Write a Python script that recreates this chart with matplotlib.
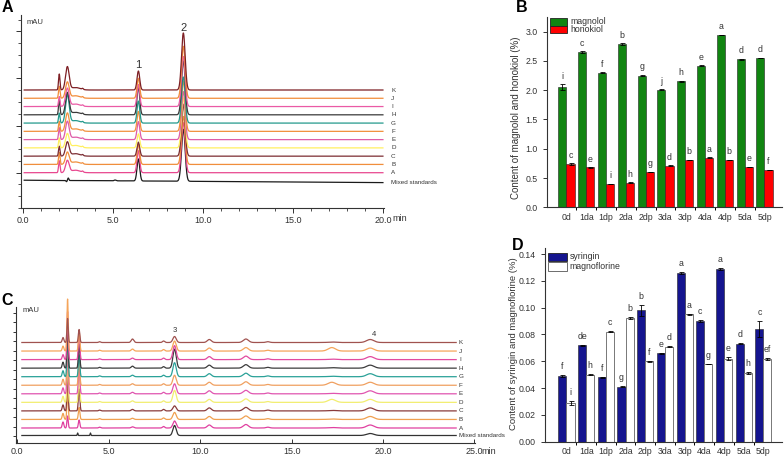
import numpy as np
import matplotlib.pyplot as plt
from matplotlib.patches import Rectangle
from matplotlib.ticker import FixedLocator, MultipleLocator

plt.rcParams['font.family'] = ['Liberation Sans', 'DejaVu Sans']

W, H = 784, 459

# ---- data ----
samples = ['A', 'B', 'C', 'D', 'E', 'F', 'G', 'H', 'I', 'J', 'K']
colors_a = ['#e8488f', '#f08e3c', '#7c2d33', '#fff060', '#de5ca8', '#f1903c',
            '#23998c', '#3a3a3a', '#ea5aa5', '#f28c3a', '#7d1f24']
colors_c = ['#e040a0', '#f0a050', '#8a3b3b', '#f2ee70', '#e055b0', '#f0a060',
            '#2aa198', '#3c3c3c', '#e24aa0', '#f5a55a', '#a0524f']

# panel A peak table (retention time, sigma) and heights for samples A..K
a_times = [2.0, 2.45, 2.9, 3.3, 6.4, 8.9]
a_sigmas = [0.04, 0.1, 0.25, 0.04, 0.075, 0.1]
a_h_200 = [12, 12, 10, 10, 12, 10, 10, 15, 10, 12, 16]
a_h_245 = [12, 12, 14, 14, 18, 18, 28, 22, 18, 16, 23]
a_h_290 = [2.5, 2.5, 2.5, 2.5, 2.5, 2.5, 2.5, 2.5, 2.5, 2.5, 2.5]
a_h_330 = [1, 1, 1, 1, 1, 1, 1, 1, 1, 1, 1]
a_h_peak1 = [22, 20, 14, 14, 18, 20, 22, 28, 22, 20, 19]
a_h_peak2 = [50, 48, 52, 50, 48, 50, 46, 54, 50, 52, 57]
a_mix_times = [2.4, 2.5, 5.1, 6.4, 8.9]
a_mix_sigmas = [0.03, 0.03, 0.05, 0.075, 0.1]
a_mix_heights = [-1.2, 2.5, 0.8, 22, 52]

# panel C peak table
c_times = [2.5, 2.75, 3.38, 4.5, 6.3, 8.0, 8.6, 10.5, 12.5, 13.7, 17.2, 19.3]
c_sigmas = [0.045, 0.035, 0.04, 0.05, 0.07, 0.06, 0.09, 0.11, 0.14, 0.1, 0.2, 0.2]
c_h_250 = [6, 6, 6, 6, 6, 6, 6, 6, 5, 5, 5]
c_h_275 = [12, 30, 38, 45, 50, 55, 45, 42, 48, 52, 24]
c_h_338 = [8, 12, 22, 26, 30, 26, 22, 24, 26, 20, 13]
c_h_450 = [0.8, 0.8, 0.8, 0.8, 0.8, 0.8, 0.8, 0.8, 0.8, 0.8, 0.8]
c_h_630 = [1.2, 1.2, 1.5, 1.5, 1.5, 1.5, 1.5, 2, 1.5, 2, 3.5]
c_h_800 = [1.5, 1.5, 1.5, 1.5, 1.5, 1.5, 1.5, 1.5, 1.5, 1.5, 1.5]
c_h_peak3 = [7, 7, 5, 12, 10, 10, 14, 19, 14, 10, 6]
c_h_1050 = [3, 3, 3, 3, 3, 3, 3, 3, 3, 3, 3]
c_h_1250 = [3.5, 3.5, 3.5, 3.5, 3.5, 3.5, 3.5, 3.5, 3.5, 3.5, 3.5]
c_h_1370 = [0.8, 0.8, 0.8, 0.8, 0.8, 0.8, 0.8, 0.8, 0.8, 0.8, 0.8]
c_h_1720 = [0.5, 0.5, 0.5, 3, 0.5, 3, 0.5, 0.5, 0.5, 3.5, 0.5]
c_h_peak4 = [3, 3, 3, 3, 3, 3, 3, 3, 3, 3, 3]
c_mix_times = [3.3, 4.0, 8.6, 19.3]
c_mix_sigmas = [0.02, 0.02, 0.09, 0.2]
c_mix_heights = [2.5, 2.5, 10, 2]

groups = ['0d', '1da', '1dp', '2da', '2dp', '3da', '3dp', '4da', '4dp', '5da', '5dp']
magnolol = [2.05, 2.65, 2.30, 2.79, 2.25, 2.01, 2.15, 2.42, 2.94, 2.53, 2.55]
magnolol_err = [0.05, 0.015, 0.01, 0.015, 0.01, 0.005, 0.015, 0.01, 0.005, 0.01, 0.005]
magnolol_sig = ['i', 'c', 'f', 'b', 'g', 'j', 'h', 'e', 'a', 'd', 'd']
honokiol = [0.74, 0.68, 0.40, 0.42, 0.60, 0.71, 0.81, 0.85, 0.81, 0.69, 0.64]
honokiol_err = [0.015, 0.005, 0.005, 0.005, 0.005, 0.005, 0.005, 0.005, 0.005, 0.005, 0.005]
honokiol_sig = ['c', 'e', 'i', 'h', 'g', 'd', 'b', 'a', 'b', 'e', 'f']

syringin = [0.049, 0.072, 0.048, 0.041, 0.098, 0.066, 0.126, 0.090, 0.129, 0.073, 0.084]
syringin_err = [0.0005, 0.0003, 0.0003, 0.0005, 0.004, 0.0003, 0.0008, 0.0005, 0.0008, 0.0003, 0.006]
syringin_sig = ['f', 'de', 'f', 'g', 'b', 'e', 'a', 'c', 'a', 'd', 'c']
magnoflorine = [0.029, 0.050, 0.082, 0.092, 0.060, 0.071, 0.095, 0.058, 0.062, 0.051, 0.062]
magnoflorine_err = [0.0015, 0.0003, 0.0003, 0.0008, 0.0003, 0.0003, 0.0003, 0.0003, 0.001, 0.0008, 0.0008]
magnoflorine_sig = ['i', 'h', 'c', 'b', 'f', 'd', 'a', 'g', 'e', 'h', 'ef']


def box(l, t, r, b):
    return [l / W, 1 - b / H, (r - l) / W, (b - t) / H]


def fpx(x, y):
    return x / W, 1 - y / H


def trace(t, times, sigmas, heights):
    y = np.zeros_like(t)
    for t0, s, h in zip(times, sigmas, heights):
        y += h * np.exp(-0.5 * ((t - t0) / s) ** 2)
    return y


def chrom_axes(ax):
    for s in ['top', 'right']:
        ax.spines[s].set_visible(False)
    for s in ['left', 'bottom']:
        ax.spines[s].set_linewidth(0.8)
        ax.spines[s].set_color('#333333')
    ax.tick_params(axis='both', labelsize=6.5, colors='#333333', width=0.7)


fig = plt.figure(figsize=(W / 100, H / 100), dpi=100)

# ---- panel A ----
ax_a = fig.add_axes(box(20.7, 15, 384, 208))
chrom_axes(ax_a)
t = np.linspace(0.05, 20.0, 6000)
mix = -7.5 - 2.4 * t / 20.0 + trace(t, a_mix_times, a_mix_sigmas, a_mix_heights)
ax_a.plot(t, mix, color='#1a1a1a', lw=0.9)
for i, s in enumerate(samples):
    hs = [a_h_200[i], a_h_245[i], a_h_290[i], a_h_330[i], a_h_peak1[i], a_h_peak2[i]]
    base = 8.27 * i
    ax_a.plot(t, base + trace(t, a_times, a_sigmas, hs), color=colors_a[i], lw=0.9)
    ax_a.text(20.45, base, s, fontsize=4.5, va='center', color='#333333', clip_on=False)
ax_a.text(20.45, -9.9, 'Mixed standards', fontsize=4.5, va='center', color='#333333', clip_on=False)
ax_a.set_xlim(-0.145, 20.06)
ax_a.set_ylim(-35.3, 157.7)
ax_a.set_xticks([0, 5, 10, 15, 20])
ax_a.set_xticklabels(['0.0', '5.0', '10.0', '15.0', '20.0'])
ax_a.xaxis.set_minor_locator(MultipleLocator(1))
ax_a.yaxis.set_major_locator(FixedLocator([0, 47.1, 94.2, 141.3]))
ax_a.yaxis.set_minor_locator(FixedLocator(np.arange(-35.3, 158, 11.775)))
ax_a.set_yticklabels([])
ax_a.tick_params(axis='both', which='major', length=3.5, pad=2)
ax_a.tick_params(axis='both', which='minor', length=2, width=0.6, colors='#333333')
ax_a.text(20.5, -0.052, 'min', transform=ax_a.get_xaxis_transform(), fontsize=6.5,
          va='center', ha='left', color='#333333')
ax_a.text(0.2, 149.7, 'mAU', fontsize=5.5, va='center', color='#333333')
ax_a.text(6.4, 107.7, '1', fontsize=8, ha='center', va='center', color='#333333')
ax_a.text(8.9, 144.7, '2', fontsize=8, ha='center', va='center', color='#333333')

# ---- panel C ----
ax_c = fig.add_axes(box(15.5, 307, 475, 443))
chrom_axes(ax_c)
t = np.linspace(0.25, 24.0, 8000)
mix = 7.5 + trace(t, c_mix_times, c_mix_sigmas, c_mix_heights)
ax_c.plot(t, mix, color='#333333', lw=0.9)
for i, s in enumerate(samples):
    hs = [c_h_250[i], c_h_275[i], c_h_338[i], c_h_450[i], c_h_630[i], c_h_800[i],
          c_h_peak3[i], c_h_1050[i], c_h_1250[i], c_h_1370[i], c_h_1720[i], c_h_peak4[i]]
    base = 15 + 8.55 * i
    ax_c.plot(t, base + trace(t, c_times, c_sigmas, hs), color=colors_c[i], lw=0.9, clip_on=False)
    ax_c.text(24.15, base, s, fontsize=4.5, va='center', color='#333333', clip_on=False)
ax_c.text(24.15, 7.5, 'Mixed standards', fontsize=4.5, va='center', color='#333333', clip_on=False)
ax_c.set_xlim(-0.098, 25.03)
ax_c.set_ylim(0, 136)
ax_c.set_xticks([0, 5, 10, 15, 20, 25])
ax_c.set_xticklabels(['0.0', '5.0', '10.0', '15.0', '20.0', '25.0'])
ax_c.yaxis.set_major_locator(FixedLocator(np.arange(7, 136, 9.5)))
ax_c.set_yticklabels([])
ax_c.tick_params(axis='x', direction='in', length=3, pad=3)
ax_c.tick_params(axis='y', length=2.5)
ax_c.text(25.4, -0.06, 'min', transform=ax_c.get_xaxis_transform(), fontsize=6.5,
          va='center', ha='left', color='#333333')
ax_c.text(0.3, 133, 'mAU', fontsize=5.5, va='center', color='#333333')
ax_c.text(8.6, 113, '3', fontsize=5.5, ha='center', va='center', color='#333333')
ax_c.text(19.5, 109, '4', fontsize=5.5, ha='center', va='center', color='#333333')

# ---- bar panels ----
x = np.arange(len(groups))
bw = 0.41


def bar_axes(ax):
    for s in ['top', 'right']:
        ax.spines[s].set_visible(False)
    for s in ['left', 'bottom']:
        ax.spines[s].set_linewidth(0.8)
        ax.spines[s].set_color('#333333')
    ax.set_xticks(x)
    ax.set_xticklabels(groups)
    ax.xaxis.set_minor_locator(FixedLocator(x[:-1] + 0.5))
    ax.tick_params(axis='x', which='major', length=0, pad=4)
    ax.tick_params(axis='x', which='minor', length=2.5, width=0.7)
    ax.tick_params(axis='both', labelsize=6.3, colors='#333333', width=0.7)
    ax.tick_params(axis='y', length=3)


ax_b = fig.add_axes(box(546.7, 17, 781.7, 207.3))
bar_axes(ax_b)
ax_b.bar(x - bw / 2, magnolol, bw, yerr=magnolol_err, color='#118511', edgecolor='#222222',
         lw=0.4, error_kw=dict(lw=0.6, capsize=1.8, capthick=0.6))
ax_b.bar(x + bw / 2, honokiol, bw, yerr=honokiol_err, color='#ff0000', edgecolor='#222222',
         lw=0.4, error_kw=dict(lw=0.6, capsize=1.8, capthick=0.6))
for i in range(len(groups)):
    ax_b.text(x[i] - bw / 2, magnolol[i] + magnolol_err[i] + 0.06, magnolol_sig[i],
              ha='center', va='bottom', fontsize=6.3, color='#333333')
    ax_b.text(x[i] + bw / 2, honokiol[i] + honokiol_err[i] + 0.06, honokiol_sig[i],
              ha='center', va='bottom', fontsize=6.3, color='#333333')
ax_b.set_xlim(-1.0, 10.87)
ax_b.set_ylim(0, 3.25)
ax_b.set_yticks(np.arange(0, 3.01, 0.5))
ax_b.set_yticklabels(['%.1f' % v for v in np.arange(0, 3.01, 0.5)])
ax_b.set_ylabel('Content of magnolol and honokiol (%)', fontsize=7, color='#333333')
ax_b.yaxis.set_label_coords(-0.11, 0.472)

ax_d = fig.add_axes(box(545, 248.3, 781.7, 441.7))
bar_axes(ax_d)
ax_d.bar(x - bw / 2, syringin, bw, yerr=syringin_err, color='#15158f', edgecolor='#222222',
         lw=0.4, error_kw=dict(lw=0.6, capsize=1.8, capthick=0.6))
ax_d.bar(x + bw / 2, magnoflorine, bw, yerr=magnoflorine_err, color='white', edgecolor='#777777',
         lw=0.7, error_kw=dict(lw=0.6, capsize=1.8, capthick=0.6))
for i in range(len(groups)):
    ax_d.text(x[i] - bw / 2, syringin[i] + syringin_err[i] + 0.003, syringin_sig[i],
              ha='center', va='bottom', fontsize=6.3, color='#333333')
    ax_d.text(x[i] + bw / 2, magnoflorine[i] + magnoflorine_err[i] + 0.003, magnoflorine_sig[i],
              ha='center', va='bottom', fontsize=6.3, color='#333333')
ax_d.set_xlim(-1.09, 10.93)
ax_d.set_ylim(0, 0.1443)
ax_d.set_yticks(np.arange(0, 0.141, 0.02))
ax_d.set_yticklabels(['%.2f' % v for v in np.arange(0, 0.141, 0.02)])
ax_d.set_ylabel('Content of syringin and magnoflorine (%)', fontsize=6.8, color='#333333')
ax_d.yaxis.set_label_coords(-0.114, 0.505)

# manual legends
def legend_row(x0, y0, x1, y1, face, edge, label):
    l, b = fpx(x0, y1)
    r, t2 = fpx(x1, y0)
    fig.add_artist(Rectangle((l, b), r - l, t2 - b, transform=fig.transFigure,
                             facecolor=face, edgecolor=edge, lw=0.6))
    tx, ty = fpx(x1 + 3, (y0 + y1) / 2)
    fig.text(tx, ty, label, fontsize=6.3, va='center', color='#333333')


legend_row(550, 18.3, 567, 25.7, '#118511', '#222222', 'magnolol')
legend_row(550, 26.3, 567, 33.3, '#ff0000', '#222222', 'honokiol')
legend_row(548.3, 252.7, 566.7, 261, '#15158f', '#222222', 'syringin')
legend_row(548.3, 261.7, 566.7, 270.7, 'white', '#555555', 'magnoflorine')

# panel letters
for lab, px_, py_ in [('A', 7.5, 8), ('B', 521.5, 8), ('C', 7, 300.5), ('D', 517.5, 245.5)]:
    fx, fy = fpx(px_, py_)
    fig.text(fx, fy, lab, fontsize=11.5, fontweight='bold', ha='center', va='center')

fig.savefig('out.png', dpi=100)
